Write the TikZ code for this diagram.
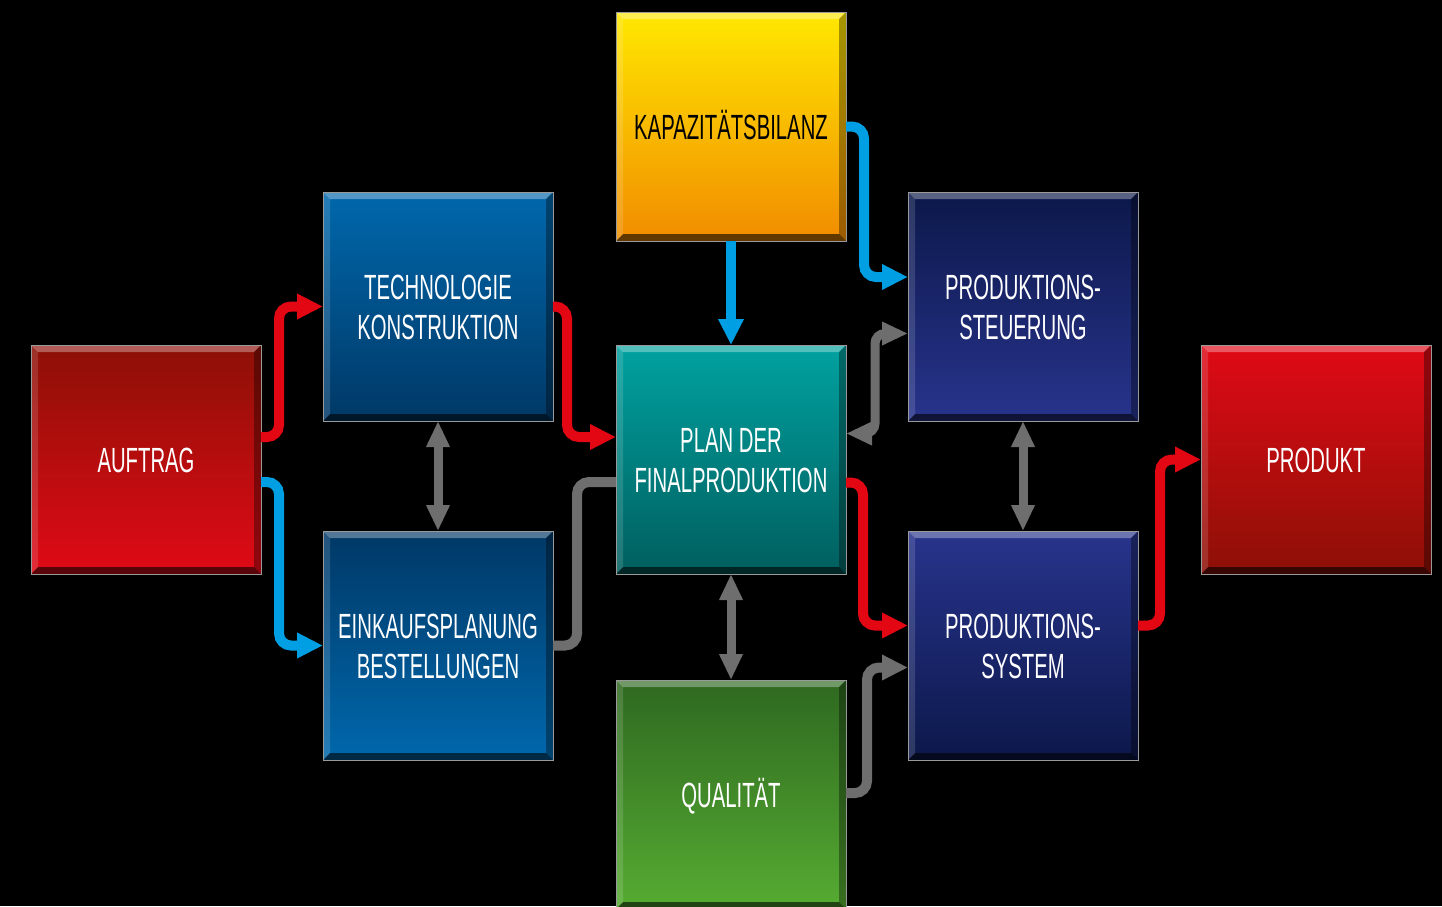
\documentclass[tikz,border=0pt]{standalone}
\usepackage{fontspec}
\setmainfont{Liberation Sans}[FakeStretch=0.58]
\usetikzlibrary{arrows.meta}
\definecolor{cred}{RGB}{227,6,19}
\definecolor{cblue}{RGB}{0,159,227}
\definecolor{cgray}{RGB}{110,110,110}
\definecolor{rA}{RGB}{140,16,6}
\definecolor{rB}{RGB}{224,10,22}
\definecolor{bA}{RGB}{0,104,172}
\definecolor{bB}{RGB}{0,56,102}
\definecolor{yA}{RGB}{255,232,0}
\definecolor{yB}{RGB}{241,140,0}
\definecolor{tA}{RGB}{0,162,160}
\definecolor{tB}{RGB}{0,94,94}
\definecolor{gA}{RGB}{46,104,32}
\definecolor{gB}{RGB}{86,172,50}
\definecolor{nA}{RGB}{12,24,74}
\definecolor{nB}{RGB}{40,52,140}
\newcommand{\tx}[1]{\rule{0pt}{25pt}\smash{#1}}
\begin{document}
\begin{tikzpicture}[x=1pt,y=-1pt,
  box/.style={minimum width=230pt,minimum height=229pt,inner sep=0pt,outer sep=0pt,
    align=center,text=white,font=\fontsize{35}{40}\selectfont},
  wconn/.style={line width=10pt,rounded corners=12pt},
  rarr/.style={wconn,draw=cred,-{Triangle[width=24pt,length=26pt]}},
  barr/.style={wconn,draw=cblue,-{Triangle[width=24pt,length=26pt]}},
  garr/.style={wconn,draw=cgray,-{Triangle[width=24pt,length=26pt]}},
  gline/.style={wconn,draw=cgray},
  gdbl/.style={line width=9pt,rounded corners=10pt,draw=cgray,
    {Triangle[width=22pt,length=26pt]}-{Triangle[width=22pt,length=26pt]}}]
\useasboundingbox (0,0) rectangle (1442,906);
\fill[black] (0,0) rectangle (1442,906);

\node[box,top color=rA,bottom color=rB] (auftrag) at (146,459.5) {\tx{AUFTRAG}};
\node[box,top color=bA,bottom color=bB] (tech) at (438,306.5) {\tx{TECHNOLOGIE}\\\tx{KONSTRUKTION}};
\node[box,top color=bB,bottom color=bA] (einkauf) at (438,645.5) {\tx{EINKAUFSPLANUNG}\\\tx{BESTELLUNGEN}};
\node[box,top color=yA,bottom color=yB,text=black] (kapaz) at (731,126.5) {\tx{KAPAZITÄTSBILANZ}};
\node[box,top color=tA,bottom color=tB] (plan) at (731,459.5) {\tx{PLAN DER}\\\tx{FINALPRODUKTION}};
\node[box,top color=gA,bottom color=gB] (qual) at (731,794.5) {\tx{QUALITÄT}};
\node[box,top color=nA,bottom color=nB] (steuer) at (1023,306.5) {\tx{PRODUKTIONS-}\\\tx{STEUERUNG}};
\node[box,top color=nB,bottom color=nA] (system) at (1023,645.5) {\tx{PRODUKTIONS-}\\\tx{SYSTEM}};
\node[box,top color=rB,bottom color=rA] (produkt) at (1316,459.5) {\tx{PRODUKT}};

\foreach \n in {auftrag,tech,einkauf,kapaz,plan,qual,steuer,system,produkt}{
  \fill[white,opacity=0.32] (\n.north west) -- (\n.north east) -- ([shift={(-7,7)}]\n.north east) -- ([shift={(7,7)}]\n.north west) -- cycle;
  \fill[black,opacity=0.35] (\n.north east) -- (\n.south east) -- ([shift={(-7,-7)}]\n.south east) -- ([shift={(-7,7)}]\n.north east) -- cycle;
  \fill[black,opacity=0.6] (\n.south east) -- (\n.south west) -- ([shift={(7,-7)}]\n.south west) -- ([shift={(-7,-7)}]\n.south east) -- cycle;
  \fill[white,opacity=0.14] (\n.south west) -- (\n.north west) -- ([shift={(7,7)}]\n.north west) -- ([shift={(7,-7)}]\n.south west) -- cycle;
  \draw[black!40!white,line width=1pt] (\n.north west) rectangle (\n.south east);
}

\draw[rarr] ([yshift=22.5pt]auftrag.east) -- ++(18,0) |- (tech.west);
\draw[barr] ([yshift=-22.5pt]auftrag.east) -- ++(18,0) |- (einkauf.west);
\draw[rarr] (tech.east) -- ++(14,0) |- ([yshift=22.5pt]plan.west);
\draw[gline] (einkauf.east) -- ++(24,0) |- ([yshift=-22.5pt]plan.west);
\draw[barr] (kapaz.south) -- (plan.north);
\draw[barr] (kapaz.east) -- ++(18,0) |- ([yshift=29.5pt]steuer.west);
\draw[gdbl] ([yshift=26pt]plan.east) -- ++(29,0) |- ([yshift=-27pt]steuer.west);
\draw[rarr] ([yshift=-23pt]plan.east) -- ++(17,0) |- ([yshift=20pt]system.west);
\draw[gdbl] (plan.south) -- (qual.north);
\draw[garr] ([yshift=1.5pt]qual.east) -- ++(21,0) |- ([yshift=-22pt]system.west);
\draw[gdbl] (tech.south) -- (einkauf.north);
\draw[gdbl] (steuer.south) -- (system.north);
\draw[rarr] ([yshift=20pt]system.east) -- ++(22,0) |- (produkt.west);
\end{tikzpicture}
\end{document}
